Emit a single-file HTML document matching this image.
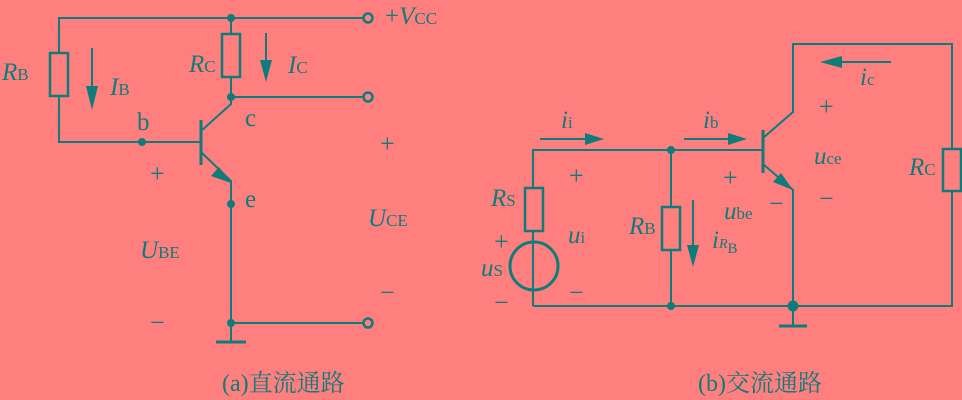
<!DOCTYPE html>
<html><head><meta charset="utf-8"><style>
html,body{margin:0;padding:0;background:#ff7f7f;}
svg{display:block}
text{font-family:"Liberation Serif","Noto Serif CJK SC",serif;fill:#0e7c7b;font-size:25px;}
text tspan{font-size:17px;}
.i{font-style:italic}
.s{font-size:26px}
.cap{font-size:24px}
</style></head><body>
<svg width="962" height="400" viewBox="0 0 962 400" xmlns="http://www.w3.org/2000/svg">
<g stroke="#0e7c7b" stroke-width="2" fill="none">
<polyline points="363,18 59,18 59,53"/>
<rect x="50" y="53" width="18" height="43" stroke-width="2.5"/>
<polyline points="59,96 59,142 201,142"/>
<line x1="201" y1="120" x2="201" y2="165" stroke-width="3"/>
<polyline points="201,131 231,104 231,97"/>
<line x1="231" y1="18" x2="231" y2="34"/>
<rect x="222" y="34" width="18" height="43" stroke-width="2.5"/>
<line x1="231" y1="77" x2="231" y2="97"/>
<line x1="231" y1="97" x2="363" y2="97"/>
<polyline points="201,152 231,181 231,323 363,323"/>
<line x1="231" y1="323" x2="231" y2="342"/>
<line x1="216" y1="342" x2="246" y2="342" stroke-width="3"/>
<line x1="92" y1="48" x2="92" y2="95"/>
<line x1="266" y1="33" x2="266" y2="68"/>
<polyline points="533,188 533,150 763,150"/>
<rect x="525" y="188" width="18" height="43" stroke-width="2.5"/>
<line x1="533" y1="231" x2="533" y2="306"/>
<circle cx="534" cy="266" r="24" stroke-width="3"/>
<polyline points="533,306 952,306 952,191"/>
<rect x="943" y="149" width="18" height="42" stroke-width="2.5"/>
<polyline points="952,149 952,44 793,44 793,112 763,138"/>
<line x1="763" y1="130" x2="763" y2="173" stroke-width="3"/>
<polyline points="763,164 793,190 793,306"/>
<line x1="671" y1="150" x2="671" y2="207"/>
<rect x="662" y="207" width="18" height="43" stroke-width="2.5"/>
<line x1="671" y1="250" x2="671" y2="306"/>
<line x1="793" y1="306" x2="793" y2="326"/>
<line x1="779" y1="326" x2="807" y2="326" stroke-width="3"/>
<line x1="693" y1="200" x2="693" y2="255"/>
<line x1="540" y1="139" x2="592" y2="139"/>
<line x1="684" y1="139" x2="735" y2="139"/>
<line x1="832" y1="62" x2="891" y2="62"/>
</g>
<g fill="#0e7c7b">
<circle cx="231" cy="18" r="4"/><circle cx="231" cy="97" r="4"/><circle cx="142" cy="142" r="4"/>
<circle cx="231" cy="204" r="4"/><circle cx="231" cy="323" r="4"/>
<circle cx="671" cy="150" r="4"/><circle cx="671" cy="306" r="4"/><circle cx="793" cy="306" r="5.5"/>
<polygon points="86,86 98,86 92,110"/>
<polygon points="260,60 272,60 266,82"/>
<polygon points="231,183 211,176 219,167"/>
<polygon points="793,190 773,182 781,173"/>
<polygon points="687,245 699,245 693,267"/>
<polygon points="585,133 585,145 604,139"/>
<polygon points="728,133 728,145 747,139"/>
<polygon points="842,56 842,68 820,62"/>
</g>
<g fill="#ff7f7f" stroke="#0e7c7b" stroke-width="2.5">
<circle cx="368" cy="18" r="4.5"/><circle cx="368" cy="97" r="4.5"/><circle cx="368" cy="323" r="4.5"/>
</g>
<text x="2" y="80" class="i">R<tspan font-style="normal">B</tspan></text>
<text x="110" y="95" class="i">I<tspan font-style="normal">B</tspan></text>
<text x="189" y="72" class="i">R<tspan font-style="normal">C</tspan></text>
<text x="288" y="73" class="i">I<tspan font-style="normal">C</tspan></text>
<text x="137" y="130">b</text>
<text x="245" y="126">c</text>
<text x="245" y="207">e</text>
<text x="150" y="182" class="s">+</text>
<text x="140" y="258" class="i">U<tspan font-style="normal">BE</tspan></text>
<text x="150" y="331" class="s">−</text>
<text x="380" y="152" class="s">+</text>
<text x="368" y="226" class="i">U<tspan font-style="normal">CE</tspan></text>
<text x="380" y="301" class="s">−</text>
<text x="385" y="24">+<tspan class="i" style="font-size:25px">V</tspan><tspan>CC</tspan></text>
<text x="222" y="391" class="cap">(a)直流通路</text>
<text x="561" y="128" class="i">i<tspan font-style="normal">i</tspan></text>
<text x="703" y="128" class="i">i<tspan font-style="normal">b</tspan></text>
<text x="860" y="85" class="i">i<tspan font-style="normal">c</tspan></text>
<text x="819" y="115" class="s">+</text>
<text x="814" y="164" class="i">u<tspan font-style="normal">ce</tspan></text>
<text x="819" y="207" class="s">−</text>
<text x="909" y="175" class="i">R<tspan font-style="normal">C</tspan></text>
<text x="569" y="184" class="s">+</text>
<text x="568" y="243" class="i">u<tspan font-style="normal">i</tspan></text>
<text x="569" y="301" class="s">−</text>
<text x="491" y="206" class="i">R<tspan font-style="normal">S</tspan></text>
<text x="494" y="250" class="s">+</text>
<text x="481" y="276" class="i">u<tspan font-style="normal">S</tspan></text>
<text x="494" y="311" class="s">−</text>
<text x="629" y="234" class="i">R<tspan font-style="normal">B</tspan></text>
<text x="723" y="186" class="s">+</text>
<text x="724" y="219" class="i">u<tspan font-style="normal">be</tspan></text>
<text x="712" y="248" class="i">i<tspan style="font-size:14px">R</tspan><tspan font-style="normal" style="font-size:15px" dy="5">B</tspan></text>
<text x="769" y="212" class="s">−</text>
<text x="698" y="391" class="cap">(b)交流通路</text>
</svg>
</body></html>
